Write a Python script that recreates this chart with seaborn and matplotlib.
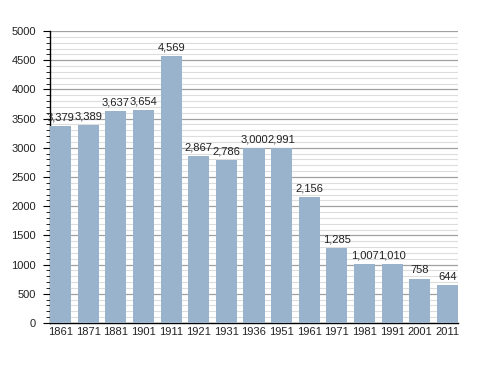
import matplotlib
matplotlib.use("Agg")
import matplotlib.pyplot as plt
import seaborn as sns
import pandas as pd
from matplotlib.ticker import MultipleLocator

years = ["1861", "1871", "1881", "1901", "1911", "1921", "1931", "1936", "1951",
         "1961", "1971", "1981", "1991", "2001", "2011"]
population = [3379, 3389, 3637, 3654, 4569, 2867, 2786, 3000, 2991,
              2156, 1285, 1007, 1010, 758, 644]

df = pd.DataFrame({"year": years, "pop": population})

sns.set_theme(style="white")
plt.rcParams['font.family'] = ['Liberation Sans', 'DejaVu Sans']

fig = plt.figure(figsize=(4.88, 3.73), dpi=100)
ax = fig.add_axes([50/488, 50/373, 408/488, 292/373])

w = 0.76
sns.barplot(data=df, x="year", y="pop", color="#99b3cc", saturation=1,
            width=w, ax=ax, zorder=3, linewidth=0, edgecolor="none")

ax.set_xlim(-w/2, len(years) - 1 + w/2)
ax.set_ylim(0, 5000)
ax.yaxis.set_major_locator(MultipleLocator(500))
ax.yaxis.set_minor_locator(MultipleLocator(100))
ax.grid(True, which="major", axis="y", color="#a0a0a0", linewidth=0.9, zorder=0)
ax.grid(True, which="minor", axis="y", color="#dddddd", linewidth=0.8, zorder=0)
ax.set_axisbelow(True)

for s in ["top", "right"]:
    ax.spines[s].set_visible(False)
for s in ["left", "bottom"]:
    ax.spines[s].set_visible(True)
    ax.spines[s].set_color("black")
    ax.spines[s].set_linewidth(1.0)

ax.tick_params(axis="y", which="major", left=True, length=5, width=0.8,
               color="black", labelsize=8, pad=5, labelcolor="#222222")
ax.tick_params(axis="y", which="minor", left=True, length=3, width=0.6, color="black")
ax.tick_params(axis="x", bottom=False, length=0, labelsize=8, pad=3, labelcolor="#222222")
ax.set_xlabel("")
ax.set_ylabel("")

for i, v in enumerate(population):
    ax.text(i, v + 60, f"{v:,}", ha="center", va="bottom", fontsize=8, color="#222222")

fig.savefig("out.png", dpi=100)
